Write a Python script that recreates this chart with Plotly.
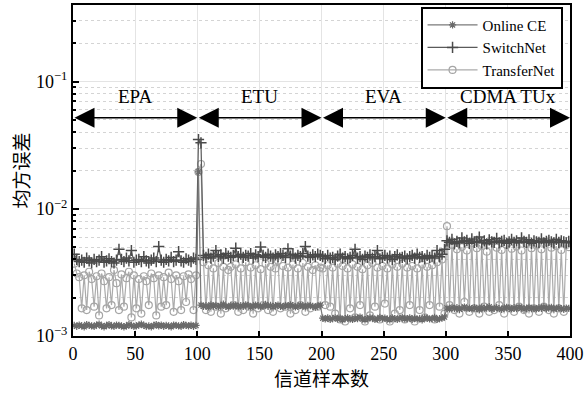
import numpy as np
import plotly.graph_objects as go

# ---------------- data (MSE values in units of 1e-5) ----------------
regions = ["EPA", "ETU", "EVA", "CDMA TUx"]
region_edges = [0, 100, 200, 300, 400]
sample_index = list(range(1, 400, 2))  # channel sample index

online_ce_epa = [121,119,122,120,118,123,121,120,119,122,124,120,118,121,123,120,119,122,121,120,
                 118,120,123,121,119,120,122,124,121,119,120,118,121,123,120,122,119,121,120,118,
                 122,121,120,119,123,121,120,122,119,121]
online_ce_etu = [1950,175,171,173,169,176,172,174,170,173,178,171,169,174,172,175,170,173,171,176,
                 174,169,172,175,173,170,171,177,172,174,169,173,175,171,170,174,172,176,173,169,
                 171,175,172,170,174,173,171,168,172,175]
online_ce_eva = [138,136,139,135,137,140,136,138,134,137,139,136,135,138,137,141,136,134,137,139,
                 138,135,136,140,137,138,136,134,139,137,135,138,140,136,137,139,135,138,136,137,
                 134,139,138,136,137,140,135,137,138,141]
online_ce_cdma = [166,163,168,164,167,162,165,169,164,166,163,167,165,161,168,164,166,170,163,165,
                  167,164,162,166,168,165,163,167,164,169,166,162,165,168,164,166,163,167,165,170,
                  164,166,168,163,165,167,164,162,166,165]

switchnet_epa = [440,400,385,395,380,410,390,375,400,385,395,420,380,390,405,385,375,395,480,400,
                 385,410,390,470,380,395,400,385,420,390,375,395,410,385,505,395,380,400,390,415,
                 385,395,460,390,380,405,395,385,410,400]
switchnet_etu = [3500,3300,430,415,440,410,425,470,420,435,410,445,425,415,430,490,420,440,415,430,
                 425,445,410,435,420,500,430,415,440,425,410,435,420,445,430,415,485,425,440,410,
                 430,420,445,505,425,415,435,420,440,430]
switchnet_eva = [420,405,430,410,415,400,425,440,410,420,405,415,430,480,410,420,400,425,415,435,
                 410,420,470,405,415,430,410,425,400,420,435,410,415,425,405,420,430,410,440,415,
                 420,405,430,415,425,410,470,420,440,480]
switchnet_cdma = [560,545,575,530,555,540,590,550,565,535,580,545,555,600,540,560,530,570,550,545,
                  585,540,555,565,535,550,575,545,560,540,590,555,545,570,535,560,550,545,580,540,
                  555,565,550,540,575,545,560,550,540,555]

transfernet_epa = [370,310,290,165,300,160,320,280,170,295,145,310,270,165,290,175,330,260,160,305,
                   170,285,320,140,300,165,280,150,295,270,175,310,285,145,300,170,290,175,315,280,
                   155,300,270,160,295,185,305,280,160,300]
transfernet_etu = [1950,2250,380,160,360,155,340,170,375,150,350,165,330,350,175,365,155,340,160,380,
                   170,345,150,360,165,335,175,370,160,350,155,340,390,165,355,170,345,150,365,160,
                   340,175,375,155,350,165,330,360,170,345]
transfernet_eva = [340,175,360,170,345,150,370,135,355,130,340,165,365,140,350,175,335,130,360,145,
                   375,170,345,135,355,180,340,130,365,150,350,160,370,135,345,175,355,130,340,160,
                   365,140,350,175,360,135,380,170,400,150]
transfernet_cdma = [730,175,520,160,480,150,500,185,470,155,540,165,490,150,510,170,460,155,560,160,
                    495,175,475,150,520,165,485,155,505,170,470,160,530,150,490,165,515,155,480,170,
                    550,160,495,150,510,165,475,155,520,500]

unit = 1e-5
online_ce = np.array(online_ce_epa + online_ce_etu + online_ce_eva + online_ce_cdma) * unit
switchnet = np.array(switchnet_epa + switchnet_etu + switchnet_eva + switchnet_cdma) * unit
transfernet = np.array(transfernet_epa + transfernet_etu + transfernet_eva + transfernet_cdma) * unit

# ---------------- figure ----------------
SERIF = "Liberation Serif"
CJK = "Noto Sans CJK SC"

fig = go.Figure()
fig.add_trace(go.Scatter(
    x=sample_index, y=transfernet, name="TransferNet", mode="lines+markers",
    line=dict(color="#ababab", width=1.2),
    marker=dict(symbol="circle-open", size=7, color="#a5a5a5", line=dict(width=1.2, color="#a5a5a5"))))
fig.add_trace(go.Scatter(
    x=sample_index, y=switchnet, name="SwitchNet", mode="lines+markers",
    line=dict(color="#5a5a5a", width=1.2),
    marker=dict(symbol="cross-thin-open", size=8, color="#4a4a4a", line=dict(width=1.5, color="#4a4a4a"))))
fig.add_trace(go.Scatter(
    x=sample_index, y=online_ce, name="Online CE", mode="lines+markers",
    line=dict(color="#7a7a7a", width=1.2),
    marker=dict(symbol="asterisk-open", size=6, color="#6a6a6a", line=dict(width=1.2, color="#6a6a6a"))))

arrow_level = 0.052
label_level = 0.076
annotations = []
for i, name in enumerate(regions):
    x0, x1 = region_edges[i], region_edges[i + 1]
    annotations.append(dict(
        x=x1, y=np.log10(arrow_level), ax=x0, ay=np.log10(arrow_level),
        xref="x", yref="y", axref="x", ayref="y", text="", showarrow=True,
        arrowhead=2, startarrowhead=2, arrowside="end+start",
        arrowsize=2.5, startarrowsize=2.5, arrowwidth=1.6, arrowcolor="black"))
    annotations.append(dict(
        x=(x0 + x1) / 2, y=np.log10(label_level), xref="x", yref="y",
        text=name, showarrow=False, font=dict(family=SERIF, size=19, color="black")))

minor_vals = [k * 10.0 ** e for e in (-3, -2, -1) for k in range(2, 10)]

fig.update_layout(
    width=585, height=394,
    margin=dict(l=73, r=15, t=5, b=58, autoexpand=False),
    paper_bgcolor="white", plot_bgcolor="white",
    font=dict(family=SERIF, size=18, color="black"),
    annotations=annotations,
    showlegend=True,
    legend=dict(
        x=0.985, y=0.995, xanchor="right", yanchor="top",
        traceorder="reversed", bgcolor="white",
        bordercolor="black", borderwidth=2,
        font=dict(family=SERIF, size=15, color="black"),
        itemwidth=50, tracegroupgap=0),
    xaxis=dict(
        range=[0, 400], tick0=0, dtick=50, automargin=False,
        showline=True, linecolor="black", linewidth=2, mirror=True,
        ticks="inside", ticklen=5, tickwidth=1.5, tickcolor="black",
        showgrid=True, gridcolor="#e4e4e4", gridwidth=1, zeroline=False,
        tickfont=dict(family=SERIF, size=18),
        title=dict(text="信道样本数", font=dict(family=CJK, size=19), standoff=5)),
    yaxis=dict(
        type="log", range=[-3, np.log10(0.4)], automargin=False,
        tickvals=[1e-3, 1e-2, 1e-1],
        ticktext=["10<sup>−3</sup>", "10<sup>−2</sup>", "10<sup>−1</sup>"],
        showline=True, linecolor="black", linewidth=2, mirror=True,
        ticks="inside", ticklen=6, tickwidth=1.5, tickcolor="black",
        showgrid=True, gridcolor="#e4e4e4", gridwidth=1, zeroline=False,
        tickfont=dict(family=SERIF, size=18),
        minor=dict(tickvals=minor_vals, ticks="inside", ticklen=3, tickcolor="black",
                   showgrid=True, gridcolor="#d4d4d4", griddash="dot", gridwidth=1),
        title=dict(text="均方误差", font=dict(family=CJK, size=19), standoff=1)),
)

fig.write_html("out.html", config={"displayModeBar": False},
               post_script="document.body.style.margin='0';")
